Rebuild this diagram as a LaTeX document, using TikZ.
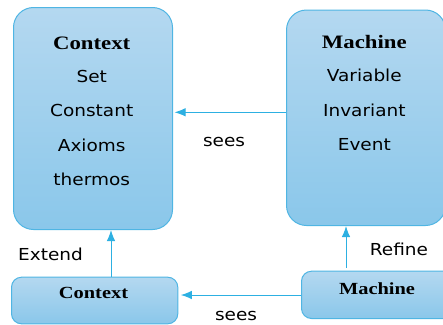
\documentclass[tikz,border=0pt]{standalone}
\usepackage{fontspec}
\setmainfont{Liberation Serif}
\newfontfamily\sansf[FakeStretch=1.12]{DejaVu Sans}
\newfontfamily\hdf[FakeStretch=1.2]{Liberation Serif}
\usetikzlibrary{arrows.meta}
\definecolor{boxtop}{HTML}{B4D8F0}
\definecolor{boxbot}{HTML}{8AC7EA}
\definecolor{boxline}{HTML}{4FB5E3}
\definecolor{arrcol}{HTML}{2DB0E2}
\tikzset{
  box/.style={draw=boxline, line width=1pt, top color=boxtop, bottom color=boxbot,
    inner sep=0pt, anchor=north west},
  bigbox/.style={box, rounded corners=20pt},
  smallbox/.style={box, rounded corners=10pt},
  item/.style={font=\sansf\fontsize{16.5}{18}\selectfont, anchor=base, inner sep=0pt},
  head/.style={font=\hdf\bfseries\fontsize{19}{21}\selectfont, anchor=base, inner sep=0pt},
  shead/.style={font=\hdf\bfseries\fontsize{17}{19}\selectfont, anchor=base, inner sep=0pt},
  lbl/.style={font=\sansf\fontsize{16.5}{18}\selectfont, anchor=base, inner sep=0pt},
  arr/.style={draw=arrcol, line width=1pt, -{Latex[length=11pt,width=8.5pt]}}
}
\begin{document}
\begin{tikzpicture}[x=1pt,y=-1pt]
\useasboundingbox (0,0) rectangle (443,324);
% boxes
\node[bigbox, minimum width=159pt, minimum height=222pt] (bc) at (13,7) {};
\node[bigbox, minimum width=159pt, minimum height=215.5pt] (bm) at (286,9.5) {};
\node[smallbox, minimum width=166.3pt, minimum height=46.6pt] (sc) at (11,276.7) {};
\node[smallbox, minimum width=159pt, minimum height=47.3pt] (sm) at (301,270.7) {};
% big context text
\node[head] (t1) at (91.7,49) {Context};
\node[item] (t2) at (91.7,82.5) {Set};
\node[item] (t3) at (91.7,116.5) {Constant};
\node[item] (t4) at (91.7,151.5) {Axioms};
\node[item] (t5) at (91.7,185.3) {thermos};
% big machine text
\node[head] (m1) at (364.3,48.3) {Machine};
\node[item] (m2) at (364.3,81.7) {Variable};
\node[item] (m3) at (364.3,116) {Invariant};
\node[item] (m4) at (364.3,150.7) {Event};
% small boxes text
\node[shead] (s1) at (93.5,298.5) {Context};
\node[shead] (s2) at (377,294.5) {Machine};
% labels
\node[lbl] (l1) at (224,146.7) {sees};
\node[lbl] (l2) at (50.5,260) {Extend};
\node[lbl] (l3) at (399,255) {Refine};
\node[lbl] (l4) at (236,320) {sees};
% connectors
\coordinate (a1s) at (bm.west |- 0,112.3);
\coordinate (a1e) at (bc.east |- 0,112.3);
\draw[arr] (a1s) -- ([xshift=1.5pt]a1e);
\coordinate (a2s) at (sc.north -| 111,0);
\coordinate (a2e) at (bc.south -| 111,0);
\draw[arr] (a2s) -- (a2e);
\coordinate (a3s) at (346,268);
\coordinate (a3e) at (bm.south -| 346,0);
\draw[arr] (a3s) -- (a3e);
\coordinate (a4s) at (sm.west |- 0,295);
\coordinate (a4e) at (sc.east |- 0,295);
\draw[arr] (a4s) -- ([xshift=2.5pt]a4e);
\end{tikzpicture}
\end{document}
